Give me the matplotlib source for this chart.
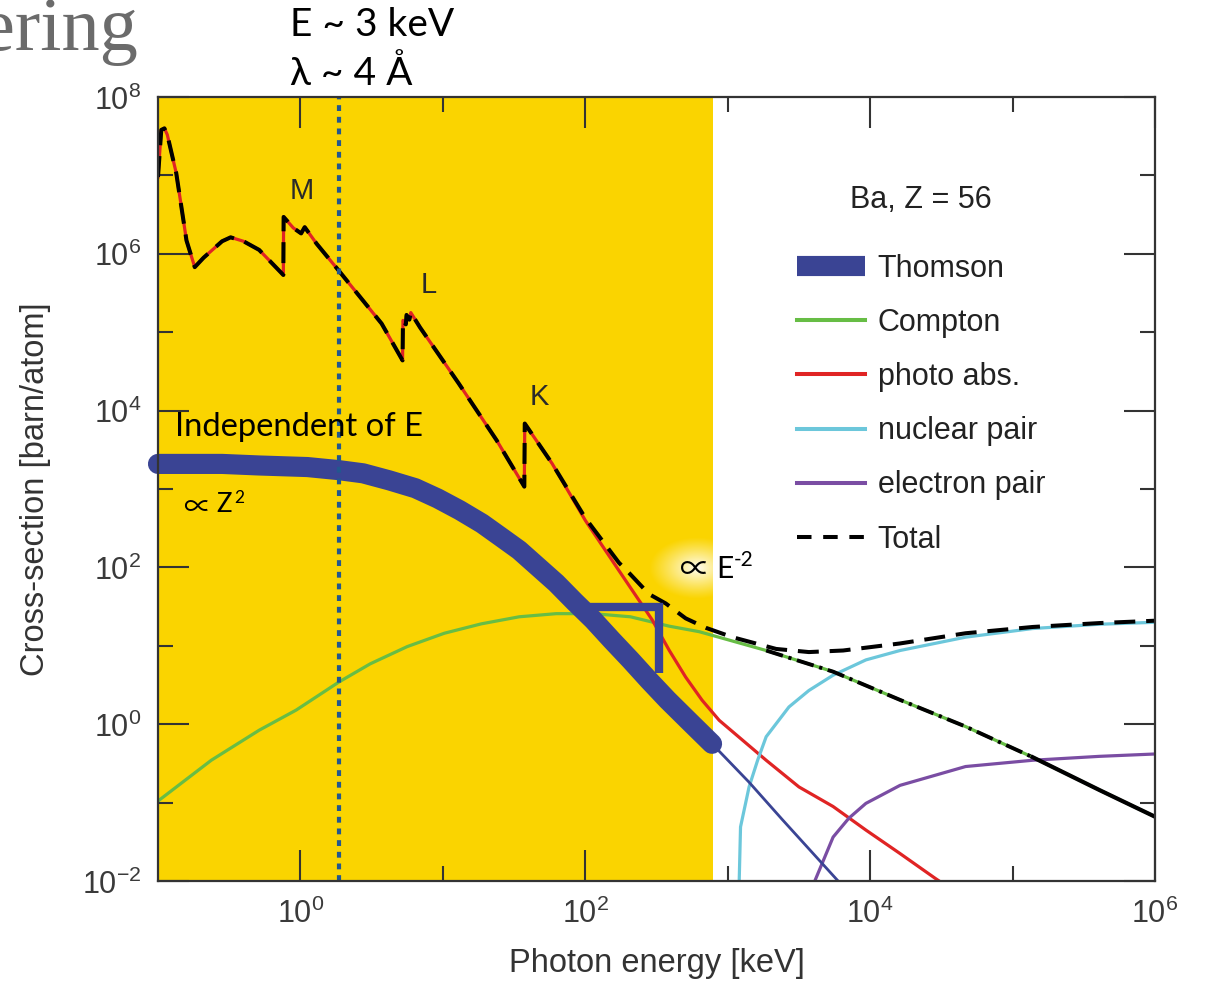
import numpy as np
import matplotlib
matplotlib.use('Agg')
import matplotlib.pyplot as plt
from matplotlib.lines import Line2D

plt.rcParams['mathtext.fontset'] = 'custom'
plt.rcParams['mathtext.rm'] = 'Liberation Sans'
plt.rcParams['mathtext.it'] = 'Liberation Sans:italic'
plt.rcParams['mathtext.bf'] = 'Liberation Sans:bold'

# ---------------- data (log10 of energy [keV] / cross-section [barn/atom]) -------------
photo_logE = [-1.0, -0.977, -0.955, -0.935, -0.872, -0.80, -0.742, -0.68, -0.55, -0.49,
              -0.40, -0.29, -0.12, -0.118, -0.05, 0.005, 0.03, 0.113, 0.267, 0.57,
              0.717, 0.72, 0.74, 0.745, 0.765, 0.775, 0.84, 1.11, 1.378, 1.572,
              1.575, 1.767, 2.0, 2.236, 2.47, 2.59, 2.705, 2.82, 2.94, 3.27, 3.50,
              3.74, 3.97, 4.21, 4.46, 4.55]
photo_logS = [6.98, 7.58, 7.60, 7.52, 7.03, 6.17, 5.83, 5.95, 6.16, 6.21,
              6.16, 6.05, 5.73, 6.47, 6.33, 6.26, 6.34, 6.13, 5.79, 5.11,
              4.64, 5.15, 5.10, 5.22, 5.16, 5.25, 5.06, 4.35, 3.62, 3.03,
              3.835, 3.325, 2.60, 1.96, 1.33, 0.94, 0.60, 0.306, 0.05, -0.46, -0.80,
              -1.05, -1.35, -1.65, -1.97, -2.08]

total_logE = [-1.0, -0.977, -0.955, -0.935, -0.872, -0.80, -0.742, -0.68, -0.55, -0.49,
              -0.40, -0.29, -0.12, -0.118, -0.05, 0.005, 0.03, 0.113, 0.267, 0.57,
              0.717, 0.72, 0.74, 0.745, 0.765, 0.775, 0.84, 1.11, 1.378, 1.572,
              1.575, 1.767, 2.0, 2.236, 2.307, 2.447, 2.565, 2.705, 2.846, 3.033,
              3.34, 3.57, 3.81, 4.21, 4.67, 5.14, 5.61, 6.0]
total_logS = [6.98, 7.58, 7.60, 7.52, 7.03, 6.17, 5.83, 5.95, 6.16, 6.21,
              6.16, 6.05, 5.73, 6.47, 6.33, 6.26, 6.34, 6.13, 5.79, 5.11,
              4.64, 5.15, 5.10, 5.22, 5.16, 5.25, 5.06, 4.35, 3.62, 3.03,
              3.835, 3.325, 2.63, 2.06, 1.93, 1.66, 1.54, 1.35, 1.23, 1.11,
              0.96, 0.92, 0.94, 1.03, 1.16, 1.24, 1.29, 1.32]

compton_logE = [-1.0, -0.626, -0.29, -0.03, 0.272, 0.49, 0.75, 1.01, 1.27, 1.536,
                1.796, 2.056, 2.317, 2.59, 2.80, 3.27, 3.74, 4.21, 4.67, 5.14, 5.61, 6.0]
compton_logS = [-0.98, -0.46, -0.077, 0.18, 0.54, 0.77, 0.99, 1.16, 1.28, 1.37,
                1.41, 1.41, 1.37, 1.25, 1.18, 0.94, 0.67, 0.31, -0.03, -0.42, -0.84, -1.18]

thomson_logE = [-1.0, -0.55, -0.29, 0.049, 0.272, 0.44, 0.624, 0.807, 0.963, 1.118,
                1.275, 1.406, 1.536, 1.666, 1.796, 1.926, 2.056, 2.187, 2.317, 2.447,
                2.577, 2.733, 2.89, 3.15, 3.385, 3.76, 3.80]
thomson_logS = [3.32, 3.32, 3.30, 3.28, 3.24, 3.20, 3.11, 3.01, 2.88, 2.73,
                2.56, 2.39, 2.22, 2.01, 1.80, 1.56, 1.33, 1.07, 0.82, 0.56,
                0.31, 0.03, -0.25, -0.74, -1.22, -1.97, -2.05]

nuclear_logE = [3.08, 3.09, 3.15, 3.21, 3.27, 3.43, 3.57, 3.74, 3.97, 4.21, 4.67, 5.14, 5.61, 6.0]
nuclear_logS = [-2.05, -1.31, -0.80, -0.46, -0.16, 0.22, 0.43, 0.625, 0.82, 0.94, 1.11, 1.22, 1.275, 1.30]

electron_logE = [3.60, 3.74, 3.85, 3.97, 4.21, 4.67, 5.14, 5.61, 6.0]
electron_logS = [-2.05, -1.44, -1.20, -1.01, -0.78, -0.54, -0.46, -0.41, -0.38]

# E^-2 slope indicator
slope_logE = [2.02, 2.52, 2.52]
slope_logS = [1.49, 1.49, 0.65]

yellow_logE_max = 2.897
marker_E = 1.88          # keV, dotted line (E ~ 3 keV)
thick_logE_max = 2.89
edge_labels = ['M', 'L', 'K']
edge_logE = [0.01, 0.90, 1.68]
edge_logS = [6.80, 5.60, 4.17]

legend_labels = ['Thomson', 'Compton', 'photo abs.', 'nuclear pair', 'electron pair', 'Total']

xticks_major = [0, 2, 4, 6]
xticks_minor = [1, 3, 5]
yticks_major = [-2, 0, 2, 4, 6, 8]
yticks_minor = [-1, 1, 3, 5, 7]

# ---------------- style ----------------
YELLOW = '#FAD400'
NAVY = '#3A4494'
GREEN = '#67BD45'
RED = '#E02424'
CYAN = '#6CC7DB'
PURPLE = '#7A4DA3'
DOTBLUE = '#22578F'
AXC = '#333333'


def p(a):
    return 10 ** np.asarray(a, dtype=float)


W, H = 1209, 984
fig = plt.figure(figsize=(W / 100, H / 100), dpi=100)
L, R, T, B = 158, 1155, 97, 881
ax = fig.add_axes([L / W, 1 - B / H, (R - L) / W, (B - T) / H])
ax.set_xscale('log')
ax.set_yscale('log')
ax.set_xlim(1e-1, 1e6)
ax.set_ylim(1e-2, 1e8)

ax.axvspan(1e-1, 10 ** yellow_logE_max, color=YELLOW, lw=0, zorder=0)

cw = 2.3
ax.plot(p(compton_logE), p(compton_logS), color=GREEN, lw=cw, zorder=2)
ax.plot(p(photo_logE), p(photo_logS), color=RED, lw=cw, zorder=2)
ax.plot(p(nuclear_logE), p(nuclear_logS), color=CYAN, lw=cw, zorder=2)
ax.plot(p(electron_logE), p(electron_logS), color=PURPLE, lw=cw, zorder=2)
ax.plot(p(thomson_logE), p(thomson_logS), color=NAVY, lw=2.0, zorder=2)

# black line over Compton at high energy (dash-dot, then solid)
ce = np.asarray(compton_logE)
cs = np.asarray(compton_logS)
m1 = (ce >= 3.27) & (ce <= 5.14)
ax.plot(p(ce[m1]), p(cs[m1]), color='black', lw=2.8, dashes=(4.5, 1.5, 0.8, 1.5), zorder=3)
m2 = ce >= 5.14
ax.plot(p(ce[m2]), p(cs[m2]), color='black', lw=3.0, zorder=3)

# total
ax.plot(p(total_logE), p(total_logS), color='black', lw=2.9, dashes=(5.2, 2.7), zorder=3)

# thick Thomson
te = np.asarray(thomson_logE)
ts = np.asarray(thomson_logS)
mt = te <= thick_logE_max
ax.plot(p(te[mt]), p(ts[mt]), color=NAVY, lw=14.5, solid_capstyle='round',
        solid_joinstyle='round', zorder=4, clip_on=False)

ax.plot(p(slope_logE), p(slope_logS), color=NAVY, lw=6.0, solid_joinstyle='miter',
        solid_capstyle='butt', zorder=4.5)

# dotted marker line
ax.axvline(marker_E, color=DOTBLUE, lw=3.0, dashes=(1.4, 1.4), dash_capstyle='butt', zorder=5)

# edge labels
for lab, xe, ye in zip(edge_labels, edge_logE, edge_logS):
    ax.text(10 ** xe, 10 ** ye, lab, ha='center', va='center', fontsize=21,
            family='Liberation Sans', color='#2a2a2a', zorder=6)

# ticks
ax.set_xticks(p(xticks_major))
ax.set_xticklabels([r'$10^{%d}$' % v for v in xticks_major])
ax.set_xticks(p(xticks_minor), minor=True)
ax.set_xticklabels([], minor=True)
ax.set_yticks(p(yticks_major))
ax.set_yticklabels([r'$10^{%d}$' % v for v in yticks_major])
ax.set_yticks(p(yticks_minor), minor=True)
ax.set_yticklabels([], minor=True)
ax.tick_params(which='both', direction='in', top=True, right=True, colors=AXC,
               width=1.5, labelsize=22, zorder=7)
ax.tick_params(which='major', length=22, pad=12)
ax.tick_params(which='minor', length=11)
for lab in ax.get_xticklabels() + ax.get_yticklabels():
    lab.set_color('#3a3a3a')
for s in ax.spines.values():
    s.set_color(AXC)
    s.set_linewidth(1.6)
    s.set_zorder(7)

ax.set_xlabel('Photon energy [keV]', fontsize=23.5, family='Liberation Sans', color='#333333',
              labelpad=14)
ax.set_ylabel('Cross-section [barn/atom]', fontsize=23.5, family='Liberation Sans',
              color='#333333', labelpad=22)

# legend
handles = [
    Line2D([], [], color=NAVY, lw=14.5, solid_capstyle='butt'),
    Line2D([], [], color=GREEN, lw=2.9),
    Line2D([], [], color=RED, lw=2.9),
    Line2D([], [], color=CYAN, lw=2.9),
    Line2D([], [], color=PURPLE, lw=2.9),
    Line2D([], [], color='black', lw=2.9, dashes=(3.6, 2.9)),
]
leg = ax.legend(handles, legend_labels, title='Ba, Z = 56', loc='upper left',
                bbox_to_anchor=(797 / W, 1 - 185 / H), bbox_transform=fig.transFigure,
                frameon=False, fontsize=22, title_fontsize=22, handlelength=2.22,
                handletextpad=0.42, labelspacing=0.79, borderpad=0, borderaxespad=0)
leg._legend_box.sep = 28
leg.get_title().set_color('#222222')
leg.get_title().set_family('Liberation Sans')
for t in leg.get_texts():
    t.set_color('#222222')
    t.set_family('Liberation Sans')

# annotations
ANN = ['Lato', 'DejaVu Sans']
SYM = ['Noto Sans CJK JP', 'DejaVu Sans']
fig.text(138 / W, 1 - 50 / H, 'ering', ha='right', va='baseline', fontsize=55,
         family='Liberation Serif', color='#6b6b6b')
fig.text(290 / W, 1 - 36 / H, 'E ~ 3 keV', ha='left', va='baseline', fontsize=28,
         family=ANN, color='black')
fig.text(290 / W, 1 - 85 / H, 'λ ~ 4 Å', ha='left', va='baseline', fontsize=28,
         family=ANN, color='black')
fig.text(175 / W, 1 - 436 / H, 'Independent of E', ha='left', va='baseline', fontsize=23.6,
         family=ANN, color='black', zorder=6)

# "∝ Z²"
fig.text(183 / W, 1 - 516 / H, '∝', ha='left', va='baseline', fontsize=20,
         family=SYM, color='black', zorder=6)
fig.text(216 / W, 1 - 512 / H, 'Z', ha='left', va='baseline', fontsize=18.5,
         family=ANN, color='black', zorder=6)
fig.text(234 / W, 1 - 503 / H, '2', ha='left', va='baseline', fontsize=12.5,
         family=ANN, color='black', zorder=6)

# soft white glow behind "∝ E^-2" (figure-level image above the axes)
gw, gh = 110, 70
gx, gy = np.meshgrid(np.arange(gw) - gw / 2 + 0.5, np.arange(gh) - gh / 2 + 0.5)
dist = np.sqrt((gx / 48.0) ** 2 + (gy / 31.0) ** 2)
glow = np.ones((gh, gw, 4))
glow[..., 3] = 0.95 * np.clip(1 - dist, 0, 1) ** 1.1
fig.figimage(glow, xo=int(697 - gw / 2), yo=int(H - 568 - gh / 2), origin='upper', zorder=1)

# "∝ E⁻²"
fig.text(680 / W, 1 - 579 / H, '∝', ha='left', va='baseline', fontsize=22,
         family=SYM, color='black', zorder=6)
fig.text(716 / W, 1 - 577.5 / H, 'E', ha='left', va='baseline', fontsize=21.5,
         family=ANN, color='black', zorder=6)
fig.text(734 / W, 1 - 566.5 / H, '-2', ha='left', va='baseline', fontsize=15,
         family=ANN, color='black', zorder=6)

fig.savefig('out.png', dpi=100)
